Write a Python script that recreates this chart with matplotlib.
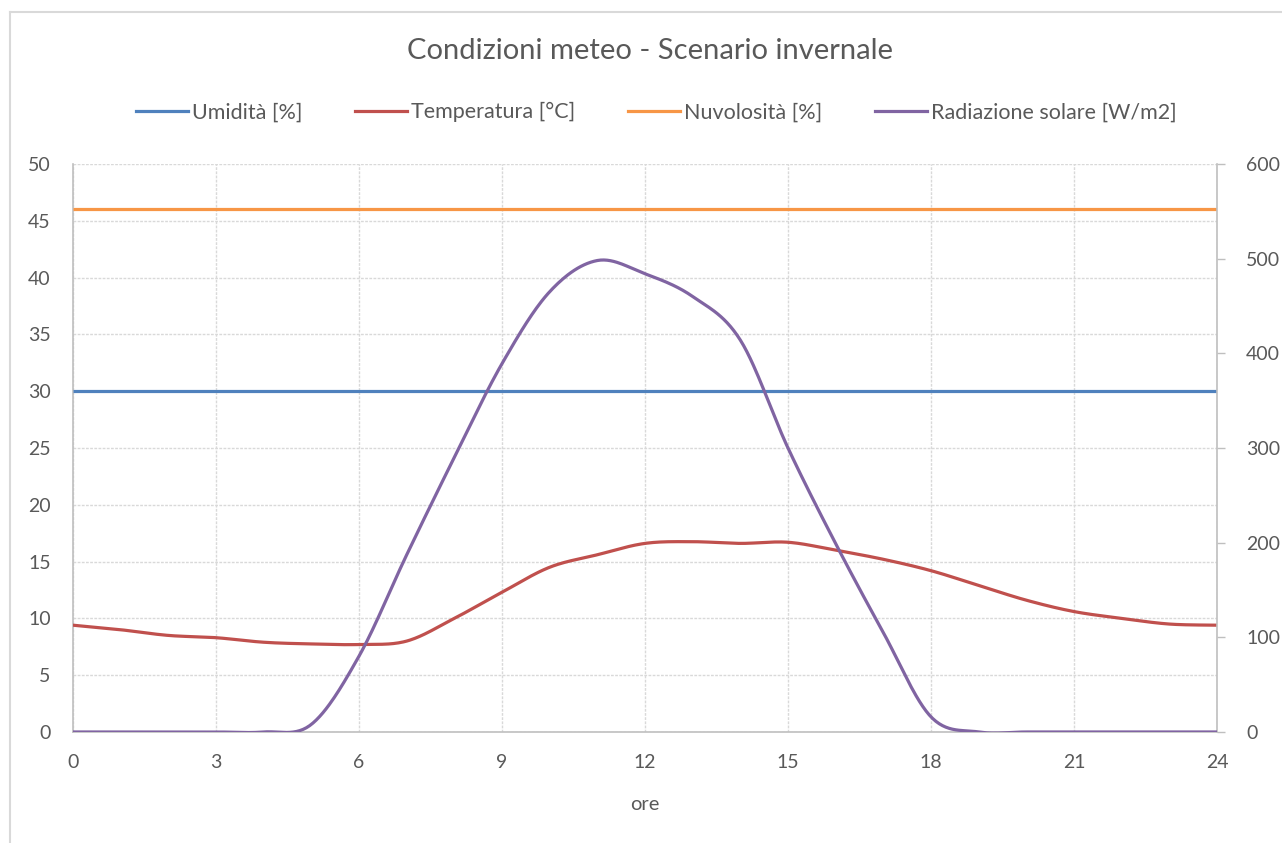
import numpy as np
import matplotlib
matplotlib.use("Agg")
import matplotlib.pyplot as plt
from matplotlib.lines import Line2D

plt.rcParams['font.family'] = ['Lato', 'DejaVu Sans']

# Hourly weather inputs for the winter scenario
ore = list(range(25))
umidita = [30] * 25
temperatura = [9.4, 9.0, 8.5, 8.3, 7.9, 7.75, 7.7, 8.0, 10.0, 12.3, 14.5, 15.6, 16.6,
               16.75, 16.6, 16.7, 16.0, 15.2, 14.2, 12.9, 11.6, 10.6, 10.0, 9.5, 9.4]
nuvolosita = [46] * 25
radiazione = [0, 0, 0, 0, 0, 8, 80, 187, 290, 389, 465, 498, 484, 460, 414, 300,
              199, 105, 16, 0, 0, 0, 0, 0, 0]

x_ticks = [0, 3, 6, 9, 12, 15, 18, 21, 24]
y_left_ticks = [0, 5, 10, 15, 20, 25, 30, 35, 40, 45, 50]
y_right_ticks = [0, 100, 200, 300, 400, 500, 600]

C_BLUE = '#4F81BD'
C_RED = '#C0504D'
C_ORANGE = '#F79646'
C_PURPLE = '#8064A2'
TXT = '#595959'
GRID = '#D9D9D9'
AXC = '#BFBFBF'


def smooth(xs, ys, n=30):
    """Bezier smoothing through every point (spreadsheet style smoothed line)."""
    xs = np.asarray(xs, float)
    ys = np.asarray(ys, float)
    px = np.concatenate([[xs[0]], xs, [xs[-1]]])
    py = np.concatenate([[ys[0]], ys, [ys[-1]]])
    t = np.linspace(0, 1, n)[:, None]
    out_x, out_y = [], []
    for i in range(1, len(px) - 2):
        p0 = np.array([px[i], py[i]])
        p3 = np.array([px[i + 1], py[i + 1]])
        p1 = p0 + (p3 - np.array([px[i - 1], py[i - 1]])) / 6.0
        p2 = p3 - (np.array([px[i + 2], py[i + 2]]) - p0) / 6.0
        b = ((1 - t) ** 3) * p0 + 3 * ((1 - t) ** 2) * t * p1 + 3 * (1 - t) * t ** 2 * p2 + t ** 3 * p3
        out_x.append(b[:, 0])
        out_y.append(b[:, 1])
    return np.concatenate(out_x), np.concatenate(out_y)


fig = plt.figure(figsize=(12.82, 8.43), dpi=100)
ax = fig.add_axes([0.0569, 0.1317, 0.8924, 0.6738])
ax2 = ax.twinx()

lw = 2.3
ax.plot(*smooth(ore, umidita), color=C_BLUE, lw=lw, solid_capstyle='butt', zorder=3)
ax.plot(*smooth(ore, temperatura), color=C_RED, lw=lw, solid_capstyle='butt', zorder=3)
ax.plot(*smooth(ore, nuvolosita), color=C_ORANGE, lw=lw, solid_capstyle='butt', zorder=3)
ax2.plot(*smooth(ore, radiazione), color=C_PURPLE, lw=lw, solid_capstyle='butt', zorder=3)

ax.set_xlim(0, 24)
ax.set_ylim(0, 50)
ax2.set_ylim(0, 600)
ax.set_xticks(x_ticks)
ax.set_yticks(y_left_ticks)
ax2.set_yticks(y_right_ticks)

ax.grid(True, color=GRID, lw=1.0, ls=(0, (2, 1)))
ax.set_axisbelow(True)

for s in ['top', 'right']:
    ax.spines[s].set_visible(False)
ax.spines['left'].set_color(AXC)
ax.spines['bottom'].set_color(AXC)
ax.spines['left'].set_linewidth(1.2)
ax.spines['bottom'].set_linewidth(1.2)
for s in ['top', 'left', 'bottom']:
    ax2.spines[s].set_visible(False)
ax2.spines['right'].set_color(AXC)
ax2.spines['right'].set_linewidth(1.2)

ax.tick_params(axis='both', length=0, labelsize=14, labelcolor=TXT)
ax.tick_params(axis='y', pad=16)
ax.tick_params(axis='x', pad=16)
ax2.tick_params(axis='y', length=6, width=1.0, color=AXC, pad=15, labelsize=14, labelcolor=TXT)

ax.set_xlabel('ore', fontsize=14.5, color=TXT, labelpad=18)

fig.text(0.507, 0.939, 'Condizioni meteo - Scenario invernale', ha='center', va='center',
         fontsize=21, color=TXT)

handles = [Line2D([], [], color=C_BLUE, lw=lw),
           Line2D([], [], color=C_RED, lw=lw),
           Line2D([], [], color=C_ORANGE, lw=lw),
           Line2D([], [], color=C_PURPLE, lw=lw)]
labels = ['Umidità [%]', 'Temperatura [°C]', 'Nuvolosità [%]', 'Radiazione solare [W/m2]']
fig.legend(handles, labels, loc='center', bbox_to_anchor=(0.512, 0.867), ncol=4, frameon=False,
           fontsize=15.5, labelcolor=TXT, handlelength=2.4, handletextpad=0.2, columnspacing=2.45)

# chart frame
fig.add_artist(Line2D([0.0078, 1.0], [0.9858, 0.9858], transform=fig.transFigure,
                      color='#D9D9D9', lw=1.5))
fig.add_artist(Line2D([0.0078, 0.0078], [0.0, 0.9858], transform=fig.transFigure,
                      color='#D9D9D9', lw=1.5))

fig.savefig('out.png', dpi=100, facecolor='white')
